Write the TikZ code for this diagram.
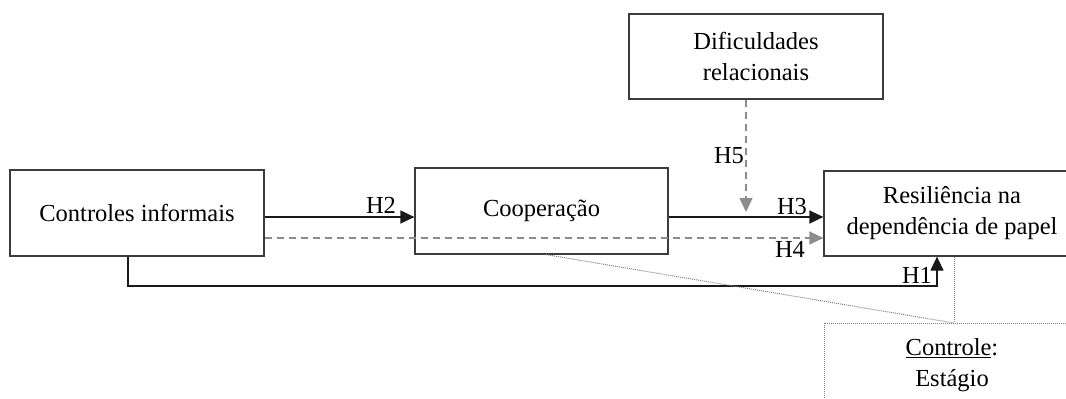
\documentclass[tikz,border=0pt]{standalone}
\usepackage{fontspec}
\setmainfont{Liberation Serif}
\usetikzlibrary{arrows.meta,calc}
\definecolor{boxline}{HTML}{3C3C3C}
\definecolor{dashgray}{HTML}{8C8C8C}
\begin{document}
\begin{tikzpicture}[x=1pt,y=-1pt,
  txt/.style={font=\fontsize{24.5}{31}\selectfont},
  box/.style={draw=boxline,line width=1.2pt,txt,align=center,inner sep=0pt},
  solidarrow/.style={draw=black!90,line width=1.4pt,-{Triangle[length=14pt,width=13pt]}},
  dasharrow/.style={draw=dashgray,line width=1.4pt,dash pattern=on 7pt off 5pt,-{Triangle[length=14pt,width=13pt,fill=dashgray]}},
  dotline/.style={draw=gray,line width=1pt,dash pattern=on 1pt off 1pt},
  lbl/.style={txt,anchor=base,inner sep=0pt}]
\useasboundingbox (0,0) rectangle (1066,399);
\clip (0,0) rectangle (1066,399);
\node[box,minimum width=254pt,minimum height=86pt] (ci) at (137,213) {Controles informais};
\node[box,minimum width=253pt,minimum height=86pt] (coop) at (541.5,211) {Cooperação};
\node[box,minimum width=254pt,minimum height=85pt] (dif) at (756,56.5) {Dificuldades\\relacionais};
\node[box,minimum width=256pt,minimum height=85pt] (res) at (952,213.5) {Resiliência na\\dependência de papel};
\node[box,draw=gray,line width=1pt,dash pattern=on 1pt off 1pt,minimum width=256pt,minimum height=84pt] (ctrl) at (952,365) {\underline{Controle}:\\Estágio};
% connectors
\draw[solidarrow] (ci.east |- 0,217) -- (coop.west |- 0,217);
\draw[solidarrow] (coop.east |- 0,217) -- (res.west |- 0,217);
\draw[dasharrow] (ci.east |- 0,238) -- (res.west |- 0,238);
\draw[dasharrow] (dif.south -| 746,0) -- (746,212);
\draw[solidarrow,line width=1.2pt] (ci.south -| 128,0) -- (128,286) -| (res.south -| 937,0);
\draw[dotline] (res.south -| 954,0) -- (ctrl.north -| 954,0);
\coordinate (jn) at (954,323);
\draw[dotline] (coop.south -| 546,0) -- (jn);
% labels
\node[lbl] (h2) at (381,213) {H2};
\node[lbl] (h3) at (792,214) {H3};
\node[lbl] (h4) at (790,257) {H4};
\node[lbl] (h5) at (729,163) {H5};
\node[lbl] (h1) at (917,283) {H1};
\end{tikzpicture}
\end{document}
